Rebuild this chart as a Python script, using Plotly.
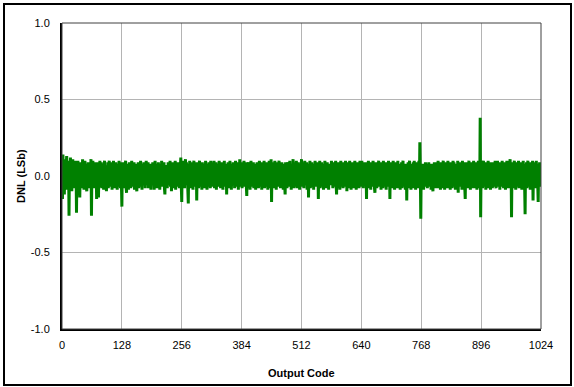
import plotly.graph_objects as go

# DNL per output code, in hundredths of an LSb (32 codes per row)
dnl_centi = [
    13, -15, 14, -6, 9, -12, 11, 3, -8, 7, 13, -9, 5, -4, 10, -26, 6, -7, 12, -3, 8, -10, 4, 11, -6, 9, -8, 2, 10, -5, 7, -24,
    6, -9, 10, -3, 8, -7, -14, 5, 9, -6, 3, -8, 11, -2, 7, -9, 4, 10, -5, 8, -7, -10, 6, -4, 9, -8, 3, 7, -6, 10, 11, -26,
    8, -5, 10, -7, 4, 9, -8, 6, -3, 7, -15, 9, -6, 5, -14, 8, -4, 10, -7, 3, 9, -8, 6, -5, 8, -9, 4, 10, -6, 7, -3, -10,
    7, -6, 9, -8, 5, 10, -4, 8, -7, 3, 9, -9, 6, -5, 10, -3, 7, -8, 4, 9, -6, 8, -9, 5, 7, -4, 10, -7, 6, -8, 9, -5,
    -20, 8, -6, 9, -3, 7, -8, 5, 10, -7, -11, 6, -4, 8, -9, 3, 9, -6, 7, -8, 5, 10, -5, 8, -7, 4, 9, -9, 6, -3, 8, -7,
    -10, 7, -5, 9, -8, 6, 3, -7, 10, -4, 8, -9, 5, 7, -6, 9, -3, 8, -8, 4, 10, -6, 7, -5, 9, -8, 3, 8, -7, 6, -9, 5,
    8, -6, 9, -4, 7, -9, 5, 10, -7, 3, 8, -8, 6, -5, 9, -3, 7, -9, 4, 8, -6, 10, -7, 5, 8, -4, 9, -8, -12, 7, -5, 6,
    7, -8, 5, 9, -6, 8, -4, 10, -7, 6, -10, 8, -5, 9, -8, 3, 7, -6, 10, -9, 5, 8, -7, 4, 9, -5, 7, -8, 6, 10, 12, -6,
    -17, 9, -7, 10, -5, 8, -8, 6, 11, -6, 9, -4, 7, -9, -18, 8, -5, 10, -7, 6, -8, 9, -3, 7, -9, 5, 10, -6, 8, -7, 4, 9,
    -16, 7, -6, 9, -8, 5, 10, -4, 8, -7, 6, -9, 9, -5, 7, -3, 8, -8, 5, 10, -6, 7, -9, 4, 8, -5, 9, -7, 6, -8, 10, -4,
    8, -7, 5, 9, -6, 10, -8, 7, -4, 9, -9, 6, -5, 8, -7, 3, 10, -6, 8, -8, 5, 9, -4, 7, -9, 6, -5, 10, -7, 8, -6, 4,
    -12, 8, -5, 9, -7, 6, -8, 10, -4, 7, -9, 5, 8, -6, 9, -3, 7, -8, 6, 10, -7, 4, 9, -5, 8, -9, 6, -6, 11, -7, 8, -5,
    7, -8, 9, -4, 6, 10, -7, 8, -5, 9, -6, -13, 7, -8, 5, 9, -3, 8, -9, 6, 10, -5, 7, -7, 4, 9, -8, 6, -4, 8, -9, 7,
    -6, 9, -5, 8, -8, 6, 10, -7, 5, -4, 9, -9, 7, -5, 8, -6, 10, -8, 4, 7, -7, 9, -3, 8, -9, 6, -6, 10, -5, 7, -8, 11,
    -17, 8, -6, 9, -4, 7, -8, 10, -5, 6, -9, 8, -3, 9, -7, 5, 10, -6, 8, -8, 6, -4, 9, -7, 7, -9, 5, 8, -6, -12, 9, -5,
    7, -8, 6, 9, -5, 8, -7, 10, -4, 7, -9, 5, -6, 8, 11, -8, 6, -5, 9, -7, 4, 10, -8, 7, -6, 9, -3, 8, -9, 6, -5, 10,
    11, -7, 8, -5, 9, -8, 6, 10, -6, 7, -4, 9, -9, 5, 8, -14, 7, -6, 10, -8, 6, -5, 9, -7, 4, 8, -9, 7, -6, 10, -5, 8,
    -7, 9, -6, 7, -15, 8, -5, 10, -8, 6, -4, 9, -7, 5, 8, -9, 7, -6, 10, -5, 8, -8, 4, 9, -7, 6, -9, 8, -5, 7, -6, 9,
    10, -6, 8, -8, 5, 9, -7, 7, -4, 10, -5, -12, 8, -8, 6, 9, -6, 7, -9, 5, 10, -7, 8, -4, 6, -8, 9, -5, 7, -7, 10, -6,
    8, -10, 7, -5, 9, -8, 6, 10, -6, 4, -9, 8, -7, 9, -4, 7, -8, 5, 10, -6, 8, -9, 6, -5, 9, -7, 7, -8, 4, 10, -6, 8,
    -7, 10, -5, 8, -8, 6, 9, -6, 7, -4, 8, -15, 9, -7, 5, 10, -8, 6, -5, 9, -9, 7, -6, 8, -4, 10, -7, 6, -8, -11, 9, -5,
    7, -8, 9, -6, 5, 10, -7, 8, -5, 6, -9, 9, -4, 7, -8, 10, -6, 8, -7, 5, 9, -9, 6, -5, 8, -7, 10, -4, 7, -15, 8, -6,
    9, -7, 6, -8, 10, -5, 8, -9, 7, -6, 9, -4, 5, -8, 10, -7, 6, -5, 8, -9, 7, -6, 9, -8, 4, 10, -7, 8, -5, 6, -9, 7,
    8, -16, 7, -6, 9, -8, 5, 10, -5, 7, -9, 8, -4, 6, -7, 9, -8, 10, -6, 5, -9, 8, -7, 9, -5, 6, -8, 10, -6, 22, 3, -28,
    6, -8, 7, -5, 8, -9, 5, 7, -6, 9, -7, 4, 8, -8, 6, -5, 9, -7, 7, -6, 8, -9, 5, 7, -4, -10, 8, -6, 9, -7, 6, -8,
    9, -6, 7, -8, 10, -5, 8, -7, 6, -9, 9, -4, 7, -8, 5, 10, -6, 8, -9, 7, -5, 9, -7, 6, -8, 10, -4, 8, -6, 7, -9, 9,
    -6, 8, -8, 7, 10, -5, 9, -7, 6, -9, 8, -4, 7, -8, 10, -11, 6, -6, 9, -7, 8, -5, 7, -9, 10, -6, 5, -8, 9, -7, -15, 8,
    -7, 9, -5, 8, -8, 6, 10, -6, 7, -9, 8, -5, 9, -7, 6, -8, 10, -4, 7, -8, 9, -6, 5, -9, 8, -7, 10, -5, 6, -8, 38, -27,
    7, -6, 9, -8, 5, 10, -7, 8, -5, 6, -9, 9, -6, 7, -8, 10, -4, 8, -7, 6, -9, 9, -5, 7, -8, 6, -6, 9, -7, 8, 10, -5,
    -8, 7, -6, 10, -7, 8, -5, 9, -9, 6, -4, 8, -7, 10, -6, 7, -8, 9, -5, 6, -9, 8, -7, 10, -4, 7, -8, 9, -6, 8, 11, -7,
    8, -27, 7, -6, 9, -8, 6, 10, -5, 7, -9, 8, -6, 9, -7, 5, 10, -8, 6, -5, 9, -7, 8, -9, 6, -4, 10, -7, 8, -6, -25, 7,
    -6, 9, -8, 7, 10, -5, 8, -7, 6, -9, 9, -6, 7, -8, 10, -16, 8, -5, 9, -7, 6, -8, 10, -6, 7, -9, -17, 8, -5, 9, -7, 8,
]

codes = list(range(len(dnl_centi)))
dnl = [v / 100 for v in dnl_centi]

x_ticks = [0, 128, 256, 384, 512, 640, 768, 896, 1024]
y_ticks = [-1.0, -0.5, 0.0, 0.5, 1.0]

font = dict(family="Arial, Liberation Sans, sans-serif", size=11, color="black")

fig = go.Figure()
fig.add_trace(
    go.Scatter(
        x=codes,
        y=dnl,
        mode="lines",
        line=dict(color="#008000", width=3),
        showlegend=False,
    )
)

# plot area: x 62..541, y 23..329 in a 574x387 page
W, H = 574, 387
L, R, T, B = 62, 33, 23, 58
pw, ph = W - L - R, H - T - B

fig.update_layout(
    width=W,
    height=H,
    margin=dict(l=L, r=R, t=T, b=B),
    paper_bgcolor="white",
    plot_bgcolor="white",
    font=font,
    xaxis=dict(
        range=[0, 1024],
        tickvals=x_ticks,
        ticktext=[str(t) for t in x_ticks],
        showgrid=True,
        gridcolor="#b4b4b4",
        gridwidth=1,
        zeroline=False,
        showline=True,
        linecolor="black",
        linewidth=2,
        ticks="",
        ticklabelstandoff=5,
    ),
    yaxis=dict(
        range=[-1, 1],
        tickvals=y_ticks,
        ticktext=[f"{t:.1f}" for t in y_ticks],
        showgrid=True,
        gridcolor="#b4b4b4",
        gridwidth=1,
        zeroline=False,
        showline=True,
        linecolor="black",
        linewidth=2,
        ticks="",
        ticklabelstandoff=8,
    ),
    shapes=[
        # thin frame on top/right of plot area
        dict(type="rect", xref="paper", yref="paper", x0=0, x1=1, y0=0, y1=1,
             line=dict(color="#404040", width=1), layer="above"),
        # outer border of the picture
        dict(type="rect", xref="paper", yref="paper",
             x0=(4 - L) / pw, x1=(571 - L) / pw,
             y0=(H - B - 385) / ph, y1=(H - B - 4) / ph,
             line=dict(color="black", width=2)),
    ],
    annotations=[
        dict(text="<b>Output Code</b>", xref="paper", yref="paper",
             x=0.5, y=(H - B - 373) / ph, xanchor="center", yanchor="middle",
             showarrow=False, font=font),
        dict(text="<b>DNL (LSb)</b>", xref="paper", yref="paper",
             x=(21 - L) / pw, y=0.5, xanchor="center", yanchor="middle",
             textangle=-90, showarrow=False, font=font),
    ],
)

# drop the browser's default body margin so the figure sits at the page corner
fig.write_html(
    "out.html",
    config={"displayModeBar": False},
    post_script="document.body.style.margin='0';",
)
